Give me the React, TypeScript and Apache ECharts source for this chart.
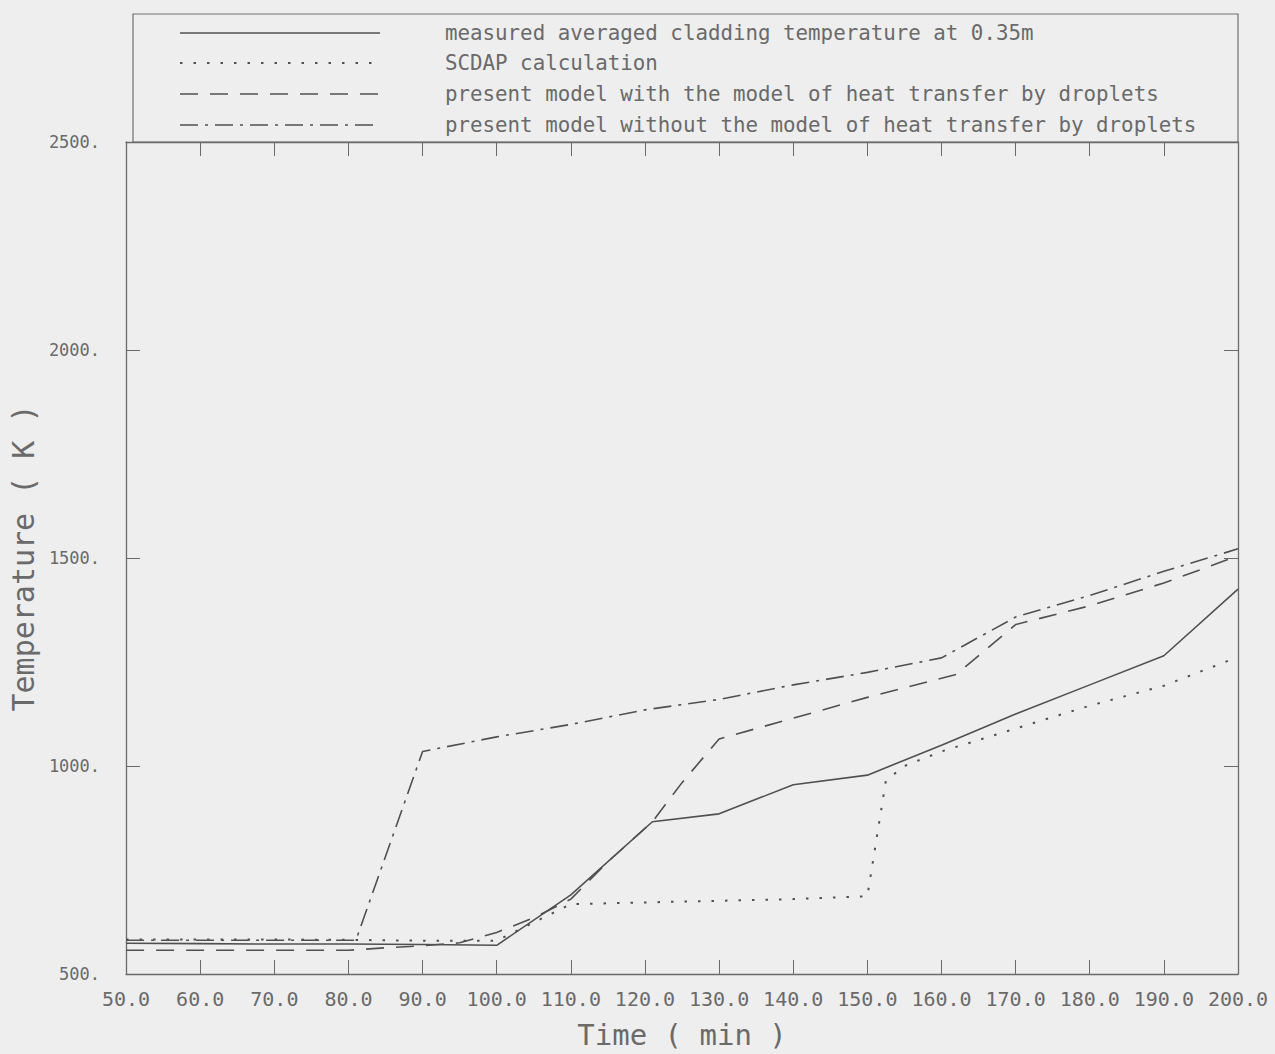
import React, { useEffect, useRef } from "react";
import * as echarts from "echarts";

const measuredTime = [50, 60, 70, 80, 90, 100, 110, 121, 130, 140, 150, 160, 170, 180, 190, 200];
const measuredTemp = [574, 573, 572, 572, 571, 569, 690, 866, 885, 955, 978, 1050, 1125, 1195, 1265, 1425];

const scdapTime = [50, 60, 70, 80, 90, 100, 110, 120, 130, 140, 150, 152.5, 155, 160, 170, 180, 190, 200];
const scdapTemp = [583, 583, 583, 582, 580, 580, 668, 672, 676, 680, 687, 965, 1000, 1035, 1090, 1145, 1193, 1262];

const withDropTime = [50, 60, 70, 80, 85, 90, 95, 100, 105, 110, 115, 121, 125, 130, 140, 150, 162, 170, 180, 190, 200];
const withDropTemp = [557, 557, 557, 557, 563, 568, 575, 600, 635, 680, 770, 866, 960, 1065, 1115, 1165, 1220, 1340, 1385, 1440, 1505];

const withoutDropTime = [50, 60, 70, 81, 90, 100, 110, 120, 130, 140, 150, 160, 170, 180, 190, 200];
const withoutDropTemp = [581, 581, 581, 581, 1035, 1070, 1100, 1135, 1160, 1195, 1225, 1260, 1358, 1410, 1468, 1522];

const legendLabels = [
  "measured averaged cladding temperature at 0.35m",
  "SCDAP calculation",
  "present model with the model of heat transfer by droplets",
  "present model without the model of heat transfer by droplets",
];

const LINE = "#505050";
const TEXT = "#6a6a6a";
const FONT = "DejaVu Sans Mono";
const dashes: (number[] | null)[] = [null, [2.5, 11], [18, 12], [18, 7, 3, 7]];

const pair = (t: number[], v: number[]) => t.map((x, i) => [x, v[i]]);

export default function App() {
  const ref = useRef<HTMLDivElement>(null);
  useEffect(() => {
    if (!ref.current) return;
    const chart = echarts.init(ref.current, null, { renderer: "svg" });
    const seriesData = [
      pair(measuredTime, measuredTemp),
      pair(scdapTime, scdapTemp),
      pair(withDropTime, withDropTemp),
      pair(withoutDropTime, withoutDropTemp),
    ];
    const legendRows = [33, 63, 94, 125];
    const graphics: any[] = [
      {
        type: "rect",
        shape: { x: 133, y: 14, width: 1105, height: 128 },
        style: { fill: "none", stroke: "#707070", lineWidth: 1.2 },
        silent: true,
      },
    ];
    legendLabels.forEach((lab, i) => {
      graphics.push({
        type: "line",
        shape: { x1: 180, y1: legendRows[i], x2: 380, y2: legendRows[i] },
        style: {
          stroke: LINE,
          lineWidth: i === 1 ? 2 : 1.5,
          lineDash: dashes[i] || undefined,
        },
        silent: true,
      });
      graphics.push({
        type: "text",
        x: 445,
        y: legendRows[i],
        style: {
          text: lab,
          fill: TEXT,
          font: `20.8px ${FONT}`,
          verticalAlign: "middle",
          align: "left",
        },
        silent: true,
      });
    });

    chart.setOption({
      animation: false,
      backgroundColor: "#eeeeee",
      grid: { left: 125, right: 37, top: 142, bottom: 78 },
      graphic: graphics,
      xAxis: [
        {
          type: "value",
          min: 50,
          max: 200,
          interval: 10,
          name: "Time ( min )",
          nameLocation: "middle",
          nameGap: 46,
          nameTextStyle: { fontFamily: FONT, fontSize: 29, color: TEXT },
          axisLine: { show: true, lineStyle: { color: "#6a6a6a", width: 1.3 } },
          axisTick: { show: true, inside: true, length: 14, lineStyle: { color: "#6a6a6a" } },
          axisLabel: {
            formatter: (v: number) => v.toFixed(1),
            fontFamily: FONT,
            fontSize: 20,
            color: TEXT,
            margin: 15,
          },
          splitLine: { show: false },
        },
        {
          type: "value",
          position: "top",
          min: 50,
          max: 200,
          interval: 10,
          axisLine: { show: true, lineStyle: { color: "#6a6a6a", width: 1.3 } },
          axisTick: { show: true, inside: true, length: 14, lineStyle: { color: "#6a6a6a" } },
          axisLabel: { show: false },
          splitLine: { show: false },
        },
      ],
      yAxis: [
        {
          type: "value",
          min: 500,
          max: 2500,
          interval: 500,
          name: "Temperature ( K )",
          nameLocation: "middle",
          nameRotate: 90,
          nameGap: 78,
          nameTextStyle: { fontFamily: FONT, fontSize: 30, color: TEXT },
          axisLine: { show: true, lineStyle: { color: "#6a6a6a", width: 1.3 } },
          axisTick: { show: true, inside: true, length: 14, lineStyle: { color: "#6a6a6a" } },
          axisLabel: {
            formatter: (v: number) => `${v}.`,
            fontFamily: FONT,
            fontSize: 17,
            color: TEXT,
            margin: 26,
          },
          splitLine: { show: false },
        },
        {
          type: "value",
          position: "right",
          min: 500,
          max: 2500,
          interval: 500,
          axisLine: { show: true, lineStyle: { color: "#6a6a6a", width: 1.3 } },
          axisTick: { show: true, inside: true, length: 14, lineStyle: { color: "#6a6a6a" } },
          axisLabel: { show: false },
          splitLine: { show: false },
        },
      ],
      series: seriesData.map((d, i) => ({
        type: "line",
        name: legendLabels[i],
        data: d,
        showSymbol: false,
        symbol: "none",
        lineStyle: {
          color: LINE,
          width: i === 1 ? 2 : 1.6,
          type: dashes[i] ? dashes[i] : "solid",
        },
      })),
    });
    return () => chart.dispose();
  }, []);
  return (
    <div
      ref={ref}
      style={{ position: "fixed", left: 0, top: 0, width: 1275, height: 1054 }}
    />
  );
}
